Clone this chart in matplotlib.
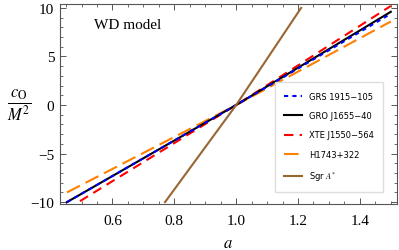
import matplotlib
matplotlib.use("Agg")
import matplotlib.pyplot as plt
from matplotlib.ticker import MultipleLocator

plt.rcParams['mathtext.fontset'] = 'stix'
plt.rcParams['font.family'] = 'serif'
plt.rcParams['font.serif'] = ['Liberation Serif', 'DejaVu Serif']

# values
a_grs = [0.453, 1.0, 1.50]
c_grs = [-10.0, 0.0, 9.4]
a_gro = [0.453, 1.0, 1.50]
c_gro = [-10.0, 0.0, 9.6]
a_xte = [0.495, 1.0, 1.50]
c_xte = [-9.9, 0.0, 10.2]
a_h17 = [0.453, 1.0, 1.50]
c_h17 = [-9.0, 0.0, 8.6]
a_sgr = [0.77, 1.0, 1.21]
c_sgr = [-10.0, 0.0, 10.0]

fig = plt.figure(figsize=(3.99, 2.51), dpi=100)
ax = fig.add_axes([0.150, 0.183, 0.845, 0.797])

ax.plot(a_h17, c_h17, color='#ff8000', lw=1.5, dashes=(7, 3), label='H1743+322')
ax.plot(a_xte, c_xte, color='#ff0000', lw=1.5, dashes=(4.5, 3), label='XTE J1550\u2212564')
ax.plot(a_gro, c_gro, color='black', lw=1.5, label='GRO J1655\u221240')
ax.plot(a_grs, c_grs, color='#0000ff', lw=1.5, dashes=(2, 2), label='GRS 1915\u2212105')
ax.plot(a_sgr, c_sgr, color='#996633', lw=1.5, label='Sgr $A^{*}$')

ax.set_xlim(0.43, 1.52)
ax.set_ylim(-10.2, 10.4)
ax.xaxis.set_major_locator(MultipleLocator(0.2))
ax.xaxis.set_minor_locator(MultipleLocator(0.05))
ax.yaxis.set_major_locator(MultipleLocator(5))
ax.yaxis.set_minor_locator(MultipleLocator(1))
ax.tick_params(which='both', direction='in', top=True, right=True, color='#555555')
ax.tick_params(which='major', length=4, width=0.7, labelsize=11)
ax.tick_params(axis='x', which='major', pad=7)
ax.tick_params(axis='y', which='major', pad=4)
ax.tick_params(which='minor', length=2, width=0.6)
ax.set_xticks([0.6, 0.8, 1.0, 1.2, 1.4])
for s in ax.spines.values():
    s.set_color('#555555')
    s.set_linewidth(0.8)

ax.set_xlabel('$a$', fontsize=12, labelpad=6)
ax.set_ylabel(r'$\frac{c_{\rm O}}{M^2}$', fontsize=17, rotation=0, va='center', ha='center')
ax.yaxis.set_label_coords(-0.12, 0.5)
ax.text(0.1, 0.93, 'WD model', transform=ax.transAxes, fontsize=11, va='top')

h, l = ax.get_legend_handles_labels()
order = [3, 2, 1, 0, 4]
leg = ax.legend([h[i] for i in order], [l[i] for i in order], loc='lower right',
                bbox_to_anchor=(0.97, 0.04), prop={'family': 'DejaVu Sans', 'size': 6},
                fancybox=False, edgecolor='#dddddd', framealpha=1,
                handlelength=2.2, labelspacing=1.25, borderpad=1.1)

fig.savefig('out.png', dpi=100)
